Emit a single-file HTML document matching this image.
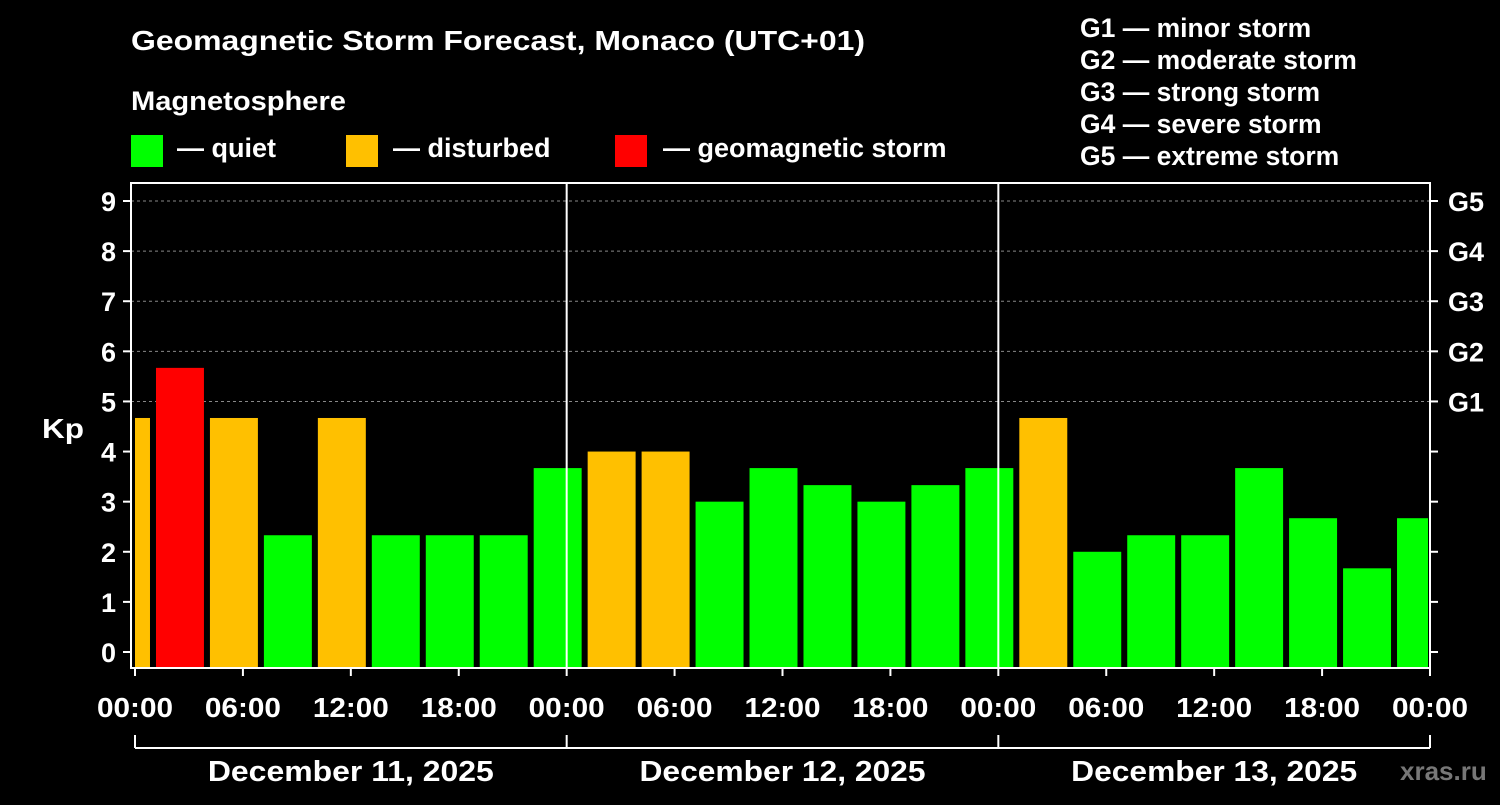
<!DOCTYPE html>
<html><head><meta charset="utf-8"><style>
body{margin:0;background:#000;}
svg text{font-family:"Liberation Sans",Arial,sans-serif;font-weight:bold;fill:#fff;}
</style></head><body>
<svg id="c" width="1500" height="800" xmlns="http://www.w3.org/2000/svg">
<rect width="1500" height="800" fill="#000"/>
<text x="131" y="50" font-size="28" textLength="734" lengthAdjust="spacingAndGlyphs">Geomagnetic Storm Forecast, Monaco (UTC+01)</text>
<text x="131" y="110" font-size="27" textLength="215" lengthAdjust="spacingAndGlyphs">Magnetosphere</text>
<g><rect x="131" y="135" width="32" height="32" fill="#00ff00"/><text x="177" y="157" font-size="27">— quiet</text></g>
<g><rect x="346" y="135" width="32" height="32" fill="#ffc000"/><text x="393" y="157" font-size="27">— disturbed</text></g>
<g><rect x="615" y="135" width="32" height="32" fill="#ff0000"/><text x="663" y="157" font-size="27">— geomagnetic storm</text></g>
<g font-size="26.5">
<text x="1080" y="37">G1 — minor storm</text>
<text x="1080" y="69">G2 — moderate storm</text>
<text x="1080" y="101">G3 — strong storm</text>
<text x="1080" y="133">G4 — severe storm</text>
<text x="1080" y="165">G5 — extreme storm</text>
</g>
<text x="42" y="438" font-size="28" textLength="42" lengthAdjust="spacingAndGlyphs">Kp</text>
<text x="1400" y="780" font-size="26" style="fill:#777">xras.ru</text>
<g id="grid"></g><g id="bars"></g><g id="axes"></g>
</svg>
<script>
const kpValues=[4.67,5.67,4.67,2.33,4.67,2.33,2.33,2.33,3.67,4,4,3,3.67,3.33,3,3.33,3.67,4.67,2,2.33,2.33,3.67,2.67,1.67,2.67];
const slotStartHours=[-2,1,4,7,10,13,16,19,22,25,28,31,34,37,40,43,46,49,52,55,58,61,64,67,70];
const xTickLabels=["00:00","06:00","12:00","18:00","00:00","06:00","12:00","18:00","00:00","06:00","12:00","18:00","00:00"];
const dayLabels=["December 11, 2025","December 12, 2025","December 13, 2025"];
const gLabels=["G1","G2","G3","G4","G5"];
const NS="http://www.w3.org/2000/svg";
const L=135,R=1430,T=183,B=668;
const x=h=>L+(R-L)*h/72;
const y=v=>652-(652-201)*v/9;
function mk(tag,attrs,parent){const e=document.createElementNS(NS,tag);for(const k in attrs)e.setAttribute(k,attrs[k]);document.getElementById(parent).appendChild(e);return e;}
for(let v=5;v<=9;v++){const g=mk('line',{x1:131,x2:R,y1:y(v),y2:y(v),stroke:'#888','stroke-dasharray':'3,3','stroke-width':1},'grid');

}
kpValues.forEach((v,i)=>{
 let x0=x(slotStartHours[i])+3,x1=x(slotStartHours[i]+3)-3;
 x0=Math.max(x0,L);x1=Math.min(x1,R-2);
 const col=v>=5?'#ff0000':(v>=4?'#ffc000':'#00ff00');
 const r=mk('rect',{x:x0,y:y(v),width:x1-x0,height:B-y(v),fill:col},'bars');
 
 
});
mk('rect',{x:131,y:T,width:R-131,height:B-T,fill:'none',stroke:'#fff','stroke-width':2},'axes');
[24,48].forEach(h=>{const l=mk('line',{x1:x(h),x2:x(h),y1:T,y2:B,stroke:'#fff','stroke-width':2},'axes');

});
for(let v=0;v<=9;v++){
 mk('line',{x1:123,x2:131,y1:y(v),y2:y(v),stroke:'#fff','stroke-width':2},'axes');
 mk('line',{x1:R,x2:R+8,y1:y(v),y2:y(v),stroke:'#fff','stroke-width':2},'axes');
 const t=mk('text',{x:116,y:y(v)+10,'font-size':27,'text-anchor':'end'},'axes');t.textContent=v;
 
 
 if(v>=5){const g=mk('text',{x:1448,y:y(v)+10,'font-size':27},'axes');g.textContent=gLabels[v-5];
 
 }
}
xTickLabels.forEach((s,i)=>{
 mk('line',{x1:x(i*6),x2:x(i*6),y1:B,y2:B+8,stroke:'#fff','stroke-width':2},'axes');
 const t=mk('text',{x:x(i*6),y:717,'font-size':28,'text-anchor':'middle',textLength:76,lengthAdjust:'spacingAndGlyphs'},'axes');t.textContent=s;
 
 
});
mk('line',{x1:L,x2:R,y1:748,y2:748,stroke:'#fff','stroke-width':2},'axes');
[0,24,48,72].forEach(h=>mk('line',{x1:x(h),x2:x(h),y1:735,y2:748,stroke:'#fff','stroke-width':2},'axes'));
dayLabels.forEach((s,i)=>{const t=mk('text',{x:x(i*24+12),y:781,'font-size':29,'text-anchor':'middle',textLength:286,lengthAdjust:'spacingAndGlyphs'},'axes');t.textContent=s;
 
 });
</script>
</body></html>
